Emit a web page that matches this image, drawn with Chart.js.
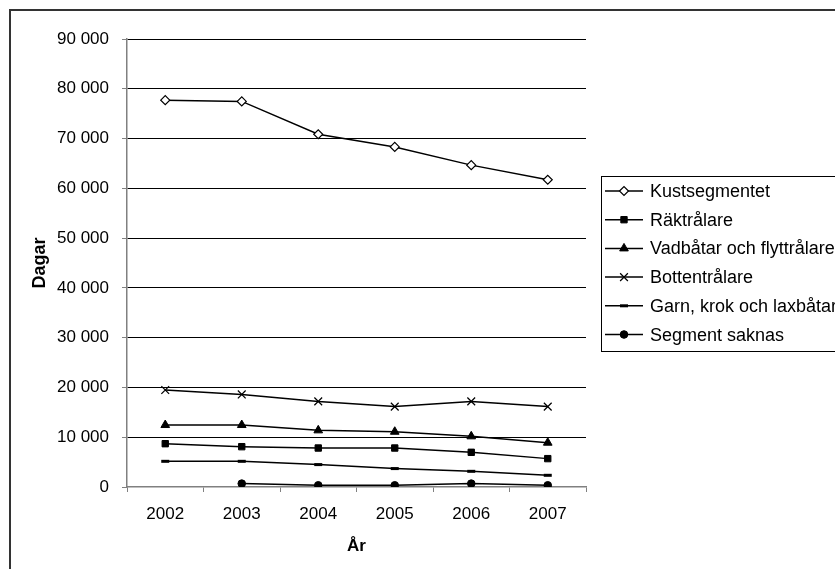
<!DOCTYPE html>
<html>
<head>
<meta charset="utf-8">
<script src="https://cdn.jsdelivr.net/npm/chart.js@4/dist/chart.umd.min.js"></script>
<style>
  html, body { margin: 0; padding: 0; background: #fff; }
  #wrap { width: 835px; height: 569px; }
</style>
</head>
<body>
<div id="wrap"><canvas id="myChart" width="835" height="569"></canvas></div>
<script>
const years = ["2002", "2003", "2004", "2005", "2006", "2007"];
const kustsegmentet = [77720, 77460, 70860, 68320, 64660, 61720];
const raktralare = [8700, 8100, 7830, 7830, 6970, 5700];
const vadbatar = [12450, 12450, 11380, 11100, 10180, 8900];
const bottentralare = [19480, 18600, 17200, 16150, 17200, 16150];
const garnKrok = [5160, 5160, 4500, 3700, 3150, 2350];
const segmentSaknas = [null, 680, 340, 340, 680, 340];

const fontFamily = "'Liberation Sans', Arial, sans-serif";
const axisGray = "#808080";

function spaced(v) {
  return String(v).replace(/\B(?=(\d{3})+(?!\d))/g, " ");
}

function series(label, data, style, radius, fill, bw) {
  return {
    label: label,
    data: data,
    borderColor: "#000",
    borderWidth: 1.5,
    pointStyle: style,
    pointRadius: radius,
    pointHoverRadius: radius,
    pointBackgroundColor: fill,
    pointBorderColor: "#000",
    pointBorderWidth: bw,
    tension: 0,
    fill: false,
  };
}

const datasets = [
  series("Kustsegmentet", kustsegmentet, "rectRot", 4.5, "#fff", 1.2),
  series("Räktrålare", raktralare, "rect", 4.5, "#000", 1),
  series("Vadbåtar och flyttrålare", vadbatar, "triangle", 5, "#000", 1),
  series("Bottentrålare", bottentralare, "crossRot", 5.5, "#000", 1.2),
  series("Garn, krok och laxbåtar", garnKrok, "line", 4, "#000", 3),
  series("Segment saknas", segmentSaknas, "circle", 3.8, "#000", 1),
];

// frame round the whole chart and the boxed legend on the right
const framePlugin = {
  id: "frame",
  afterDraw(chart) {
    const ctx = chart.ctx;
    ctx.save();
    ctx.strokeStyle = "#333";
    ctx.lineWidth = 2;
    ctx.strokeRect(10, 10, 1000, 1000);

    ctx.strokeStyle = "#000";
    ctx.lineWidth = 1;
    ctx.strokeRect(601.5, 176.5, 400, 175);

    ctx.font = "18px " + fontFamily;
    ctx.textBaseline = "alphabetic";
    ctx.textAlign = "left";
    chart.data.datasets.forEach((ds, i) => {
      const y = 191 + i * 28.7;
      ctx.strokeStyle = "#000";
      ctx.lineWidth = 1.5;
      ctx.beginPath();
      ctx.moveTo(605, y);
      ctx.lineTo(643, y);
      ctx.stroke();

      ctx.fillStyle = ds.pointBackgroundColor;
      ctx.strokeStyle = ds.pointBorderColor;
      ctx.lineWidth = ds.pointBorderWidth;
      Chart.helpers.drawPoint(
        ctx,
        { pointStyle: ds.pointStyle, radius: ds.pointRadius, borderWidth: ds.pointBorderWidth, rotation: 0 },
        624,
        y
      );

      ctx.fillStyle = "#000";
      ctx.fillText(ds.label, 650, y + 6);
    });
    ctx.restore();
  },
};

new Chart(document.getElementById("myChart"), {
  type: "line",
  data: { labels: years, datasets: datasets },
  options: {
    responsive: false,
    animation: false,
    layout: { padding: { left: 0, top: 39, right: 249, bottom: 0 } },
    plugins: {
      legend: { display: false },
      tooltip: { enabled: false },
    },
    scales: {
      x: {
        offset: true,
        afterFit(scale) {
          scale.height = 82;
        },
        grid: {
          offset: true,
          drawOnChartArea: false,
          tickLength: 5,
          tickColor: axisGray,
        },
        border: { color: axisGray, width: 1.5 },
        ticks: {
          color: "#000",
          padding: 12,
          maxRotation: 0,
          font: { family: fontFamily, size: 17 },
        },
        title: {
          display: true,
          text: "År",
          color: "#000",
          padding: { top: 0, bottom: 12 },
          font: { family: fontFamily, size: 17, weight: "bold" },
        },
      },
      y: {
        min: 0,
        max: 90000,
        afterFit(scale) {
          scale.width = 127;
        },
        grid: {
          color: (ctx) => (ctx.tick && ctx.tick.value === 0 ? "rgba(0,0,0,0)" : "#000"),
          lineWidth: 1,
          tickLength: 5,
          tickColor: axisGray,
        },
        border: { color: axisGray, width: 1.5 },
        ticks: {
          stepSize: 10000,
          color: "#000",
          padding: 13,
          font: { family: fontFamily, size: 17 },
          callback: (v) => spaced(v),
        },
        title: {
          display: true,
          text: "Dagar",
          color: "#000",
          padding: { top: 29, bottom: 0 },
          font: { family: fontFamily, size: 18, weight: "bold" },
        },
      },
    },
  },
  plugins: [framePlugin],
});
</script>
</body>
</html>
